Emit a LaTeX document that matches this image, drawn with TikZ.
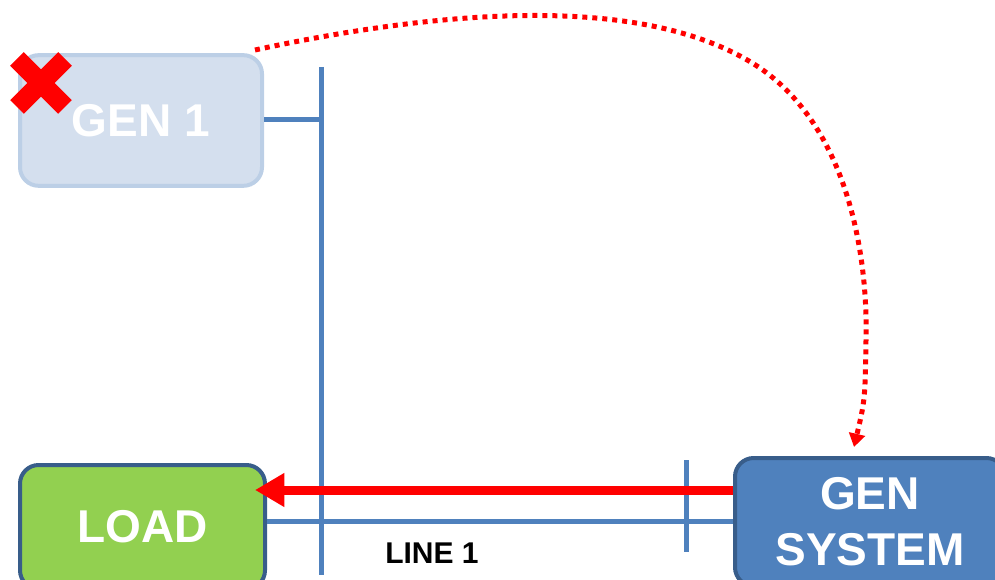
\documentclass[tikz,border=0pt]{standalone}
\usepackage{fontspec}
\setmainfont{Liberation Sans}
\usetikzlibrary{arrows.meta}
\definecolor{busblue}{HTML}{4F81BD}
\definecolor{darkblue}{HTML}{385D8A}
\definecolor{loadgreen}{HTML}{92D050}
\definecolor{fadefill}{HTML}{D4DFEE}
\definecolor{fadeline}{HTML}{BCCFE6}
\begin{document}
\begin{tikzpicture}[x=0.75pt,y=-0.75pt,
  box/.style={draw=darkblue,line width=3pt,rounded corners=14pt,text=white,
    font=\fontsize{34.5}{42}\selectfont\bfseries,align=center,inner sep=0pt},
  bus/.style={draw=busblue,line width=3.75pt},
  flow/.style={draw=red,line width=6.75pt,-{Triangle[length=22pt,width=24pt]}},
  signal/.style={draw=red,line width=3.75pt,dash pattern=on 3.75pt off 3.75pt,
    -{Triangle[length=10pt,width=12pt]}}]
\useasboundingbox (0,0) rectangle (995,580);
\clip (0,0) rectangle (995,580);
% boxes
\node [box,draw=fadeline,fill=fadefill,minimum width=181.5pt,minimum height=98pt] (gen1) at (141,120.5) {GEN 1};
\node [box,fill=loadgreen,minimum width=183.75pt,minimum height=93pt] (load) at (142.5,527) {LOAD};
\node [box,fill=busblue,minimum width=202.5pt,minimum height=96pt] (gensys) at (870,522) {GEN\\SYSTEM};
% buses
\coordinate (bus1top) at (321,67);
\coordinate (bus1bot) at (321,575);
\coordinate (bus2top) at (686,460);
\coordinate (bus2bot) at (686,552);
\draw [bus] (bus1top) -- (bus1bot);
\draw [bus] (bus2top) -- (bus2bot);
\draw [bus] (gen1.east |- 0,120) -- (bus1top |- 0,120);
\draw [bus] (load.east |- 0,521) -- (gensys.west |- 0,521);
\node [font=\fontsize{22.5}{27}\selectfont\bfseries] (line1) at (432,553) {LINE 1};
% power flow
\coordinate (tip) at (255,490);
\draw [flow] (gensys.west |- tip) -- (tip);
% trip signal
\coordinate (sigstart) at (255,50);
\coordinate (sigend) at (854,447);
\draw [signal] (sigstart) .. controls (450,8) and (650,-6) .. (760,68)
  .. controls (850,130) and (868,260) .. (866,340)
  .. controls (865,400) .. (sigend);
% tripped
\draw [red,line width=14.5pt] (17,59) -- (65,107);
\draw [red,line width=14.5pt] (65,59) -- (17,107);
\end{tikzpicture}
\end{document}
